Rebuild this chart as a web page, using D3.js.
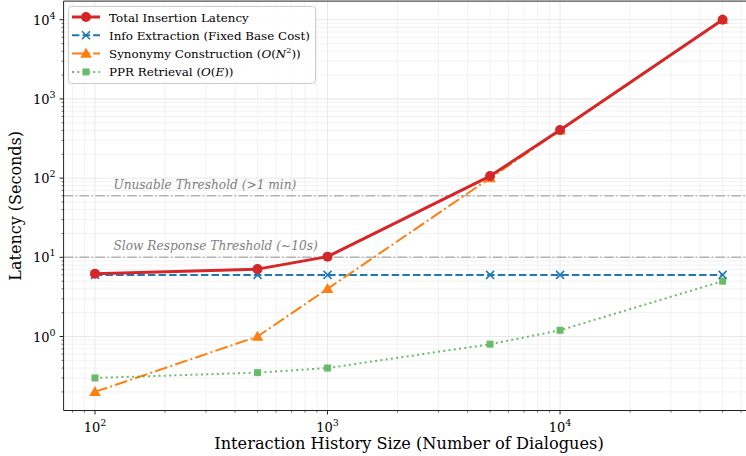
<!DOCTYPE html>
<html>
<head>
<meta charset="utf-8">
<script src="https://cdn.jsdelivr.net/npm/d3@7"></script>
<style>
  body { margin: 0; background: #fff; }
  svg { font-family: "DejaVu Serif", serif; display: block; }
  svg text { font-family: "DejaVu Serif", serif; }
  .grid line { stroke: #efefef; stroke-width: 0.8; }
  .grid .major { stroke: #e2e2e2; }
</style>
</head>
<body>
<svg id="chart" width="746" height="456"></svg>
<script>
// data
const sizes = [100, 500, 1000, 5000, 10000, 50000];
const infoExtraction = [6, 6, 6, 6, 6, 6];
const synonymy = [0.2, 1, 4, 100, 400, 9990];
const pprRetrieval = [0.3, 0.35, 0.4, 0.8, 1.2, 5];
const totalLatency = [6.2, 7.1, 10.2, 106, 405, 10000];
const thresholds = [
  { value: 60, label: 'Unusable Threshold (>1 min)' },
  { value: 10, label: 'Slow Response Threshold (~10s)' }
];

const svg = d3.select('#chart');
const plot = { left: 63.6, right: 754, top: 1.1, bottom: 410.5 };

// matplotlib-style 5% margins in log space
function logPad(lo, hi) {
  const a = Math.log10(lo), b = Math.log10(hi), m = (b - a) * 0.05;
  return [Math.pow(10, a - m), Math.pow(10, b + m)];
}
const allY = [].concat(infoExtraction, synonymy, pprRetrieval, totalLatency);
const x = d3.scaleLog().domain(logPad(d3.min(sizes), d3.max(sizes))).range([plot.left, plot.right]);
const y = d3.scaleLog().domain(logPad(d3.min(allY), d3.max(allY))).range([plot.bottom, plot.top]);

// ticks
function logTicks(scale) {
  const [lo, hi] = scale.domain();
  const major = [], minor = [];
  for (let e = Math.floor(Math.log10(lo)); e <= Math.ceil(Math.log10(hi)); e++) {
    for (let k = 1; k < 10; k++) {
      const v = k * Math.pow(10, e);
      if (v < lo || v > hi) continue;
      (k === 1 ? major : minor).push(v);
    }
  }
  return { major, minor };
}
const xt = logTicks(x), yt = logTicks(y);

const grid = svg.append('g').attr('class', 'grid');
grid.selectAll('.gx').data(xt.minor.concat(xt.major)).join('line')
  .attr('class', d => xt.major.includes(d) ? 'major' : 'minor')
  .attr('x1', d => x(d)).attr('x2', d => x(d))
  .attr('y1', plot.top).attr('y2', plot.bottom);
grid.selectAll('.gy').data(yt.minor.concat(yt.major)).join('line')
  .attr('class', d => yt.major.includes(d) ? 'major' : 'minor')
  .attr('y1', d => y(d)).attr('y2', d => y(d))
  .attr('x1', plot.left).attr('x2', plot.right);

// threshold lines
const thr = svg.append('g');
thr.selectAll('line').data(thresholds).join('line')
  .attr('x1', plot.left).attr('x2', plot.right)
  .attr('y1', d => y(d.value)).attr('y2', d => y(d.value))
  .attr('stroke', '#b3b3b3').attr('stroke-width', 1.5)
  .attr('stroke-dasharray', '9.6,2.4,1.5,2.4');
thr.selectAll('text').data(thresholds).join('text')
  .attr('x', x(120)).attr('y', d => y(d.value) - 7)
  .attr('font-size', 12.2).attr('font-style', 'italic').attr('fill', '#7f7f7f')
  .text(d => d.label);

// series
const series = [
  { name: 'info', values: infoExtraction, color: '#1f77b4', width: 2, dash: '7.4,3.2', marker: 'x' },
  { name: 'syn', values: synonymy, color: '#ff7f0e', width: 2, dash: '12.8,3.2,2,3.2', marker: 'tri' },
  { name: 'ppr', values: pprRetrieval, color: '#2ca02c', width: 2, dash: '2,3.3', marker: 'sq', opacity: 0.7 },
  { name: 'total', values: totalLatency, color: '#d62728', width: 3, dash: null, marker: 'circle' }
];

const line = d3.line().x(d => x(d[0])).y(d => y(d[1]));

function drawMarker(g, type, color, cx, cy) {
  if (type === 'circle') {
    g.append('circle').attr('cx', cx).attr('cy', cy).attr('r', 5).attr('fill', color);
  } else if (type === 'x') {
    const s = 4;
    g.append('path').attr('d', `M${cx - s},${cy - s}L${cx + s},${cy + s}M${cx - s},${cy + s}L${cx + s},${cy - s}`)
      .attr('stroke', color).attr('stroke-width', 1.5).attr('fill', 'none');
  } else if (type === 'tri') {
    g.append('path').attr('d', d3.symbol().type(d3.symbolTriangle).size(58)())
      .attr('transform', `translate(${cx},${cy + 0.8})`).attr('fill', color);
  } else if (type === 'sq') {
    g.append('rect').attr('x', cx - 3.5).attr('y', cy - 3.5).attr('width', 7).attr('height', 7).attr('fill', color);
  }
}

const seriesLayer = svg.append('g');
series.forEach(s => {
  const g = seriesLayer.append('g').attr('opacity', s.opacity || 1);
  const pts = sizes.map((v, i) => [v, s.values[i]]);
  g.append('path').datum(pts).attr('d', line)
    .attr('fill', 'none').attr('stroke', s.color).attr('stroke-width', s.width)
    .attr('stroke-dasharray', s.dash).attr('stroke-linejoin', 'round');
  pts.forEach(p => drawMarker(g, s.marker, s.color, x(p[0]), y(p[1])));
});

// axes frame
svg.append('path')
  .attr('d', `M${plot.left},${plot.top}L${plot.left},${plot.bottom}L${plot.right},${plot.bottom}L${plot.right},${plot.top}Z`)
  .attr('fill', 'none').attr('stroke', '#222').attr('stroke-width', 1);

function expLabel(sel, e) {
  sel.append('tspan').text('10');
  sel.append('tspan').attr('font-size', 9.5).attr('dy', -6).text(e);
}

const xAxis = svg.append('g');
xAxis.selectAll('.maj').data(xt.major).join('line')
  .attr('x1', d => x(d)).attr('x2', d => x(d))
  .attr('y1', plot.bottom).attr('y2', plot.bottom + 4).attr('stroke', '#222');
xAxis.selectAll('.min').data(xt.minor).join('line')
  .attr('x1', d => x(d)).attr('x2', d => x(d))
  .attr('y1', plot.bottom).attr('y2', plot.bottom + 2).attr('stroke', '#222').attr('stroke-width', 0.7);
xt.major.forEach(v => {
  const t = xAxis.append('text').attr('x', x(v)).attr('y', plot.bottom + 21)
    .attr('text-anchor', 'middle').attr('font-size', 13);
  expLabel(t, Math.round(Math.log10(v)));
});

const yAxis = svg.append('g');
yAxis.selectAll('.maj').data(yt.major).join('line')
  .attr('y1', d => y(d)).attr('y2', d => y(d))
  .attr('x1', plot.left - 4).attr('x2', plot.left).attr('stroke', '#222');
yAxis.selectAll('.min').data(yt.minor).join('line')
  .attr('y1', d => y(d)).attr('y2', d => y(d))
  .attr('x1', plot.left - 2).attr('x2', plot.left).attr('stroke', '#222').attr('stroke-width', 0.7);
yt.major.forEach(v => {
  const t = yAxis.append('text').attr('x', plot.left - 8).attr('y', y(v) + 5)
    .attr('text-anchor', 'end').attr('font-size', 13);
  expLabel(t, Math.round(Math.log10(v)));
});

svg.append('text').attr('x', 409).attr('y', 449).attr('text-anchor', 'middle')
  .attr('font-size', 16.2).text('Interaction History Size (Number of Dialogues)');
svg.append('text').attr('transform', `translate(21,${(plot.top + plot.bottom) / 2}) rotate(-90)`)
  .attr('text-anchor', 'middle').attr('font-size', 16).text('Latency (Seconds)');

// legend
const legend = svg.append('g');
legend.append('rect').attr('x', 68.5).attr('y', 6.5).attr('width', 247).attr('height', 77)
  .attr('rx', 3).attr('fill', 'rgba(255,255,255,0.85)').attr('stroke', '#cccccc');
const legendItems = [
  { s: series[3], parts: [['Total Insertion Latency']] },
  { s: series[0], parts: [['Info Extraction (Fixed Base Cost)']] },
  { s: series[1], parts: [['Synonymy Construction ('], ['O', 'i'], ['('], ['N', 'i'], ['2', 'sup'], [')', 'post'], [')']] },
  { s: series[2], parts: [['PPR Retrieval ('], ['O', 'i'], ['('], ['E', 'i'], [')'], [')']] }
];
legendItems.forEach((it, i) => {
  const cy = 17 + i * 18.3;
  const g = legend.append('g').attr('opacity', it.s.opacity || 1);
  g.append('line').attr('x1', 72).attr('x2', 100).attr('y1', cy).attr('y2', cy)
    .attr('stroke', it.s.color).attr('stroke-width', it.s.width).attr('stroke-dasharray', it.s.dash);
  drawMarker(g, it.s.marker, it.s.color, 86, cy);
  const t = legend.append('text').attr('x', 109).attr('y', cy + 4.5).attr('font-size', 11.9);
  it.parts.forEach(p => {
    const ts = t.append('tspan').text(p[0]);
    if (p[1] === 'i') ts.attr('font-style', 'italic');
    if (p[1] === 'sup') ts.attr('font-size', 8.2).attr('dy', -5);
    if (p[1] === 'post') ts.attr('dy', 5);
  });
});
</script>
</body>
</html>
